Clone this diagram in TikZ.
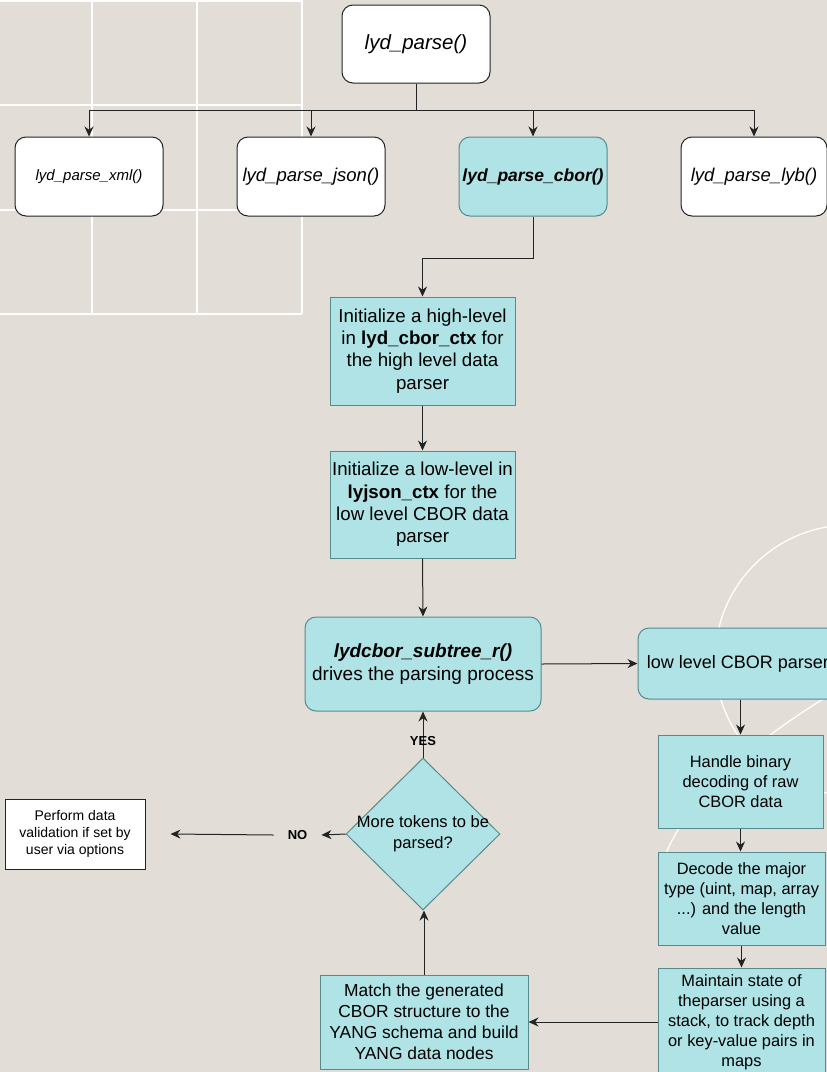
\documentclass[tikz,border=0pt]{standalone}
\usepackage{fontspec}
\setmainfont{Liberation Sans}
\usetikzlibrary{arrows.meta,shapes.geometric}
\definecolor{bg}{RGB}{226,222,215}
\definecolor{tealfill}{RGB}{176,227,230}
\definecolor{tealdraw}{RGB}{88,138,141}
\definecolor{linec}{RGB}{35,35,35}
\begin{document}
\begin{tikzpicture}[x=1pt,y=-1pt,
  wbox/.style={draw=linec, fill=white, rounded corners=11pt, line width=1pt, minimum width=148pt, minimum height=79pt, inner sep=0pt, align=center},
  tbox/.style={draw=tealdraw, fill=tealfill, line width=1pt, inner sep=0pt, align=center},
  tround/.style={tbox, rounded corners=11pt},
  conn/.style={draw=linec, line width=1pt, -{Stealth[length=10pt,width=9pt]}},
  gridline/.style={draw=white, line width=1.6pt},
  arcline/.style={draw=white, line width=1.3pt},
  lbl/.style={font=\fontsize{13}{15}\selectfont\bfseries, inner sep=1pt}
]
\fill[bg] (0,0) rectangle (827,1072);
\useasboundingbox (0,0) rectangle (827,1072);
\begin{scope}
\clip (0,0) rectangle (827,1072);
% background grid
\foreach \gx in {92,197,302} \draw[gridline] (\gx,0) -- (\gx,314);
\foreach \gy in {1,105,210,314} \draw[gridline] (0,\gy) -- (302,\gy);
% decorative arcs
\draw[arcline] (850,660) circle[radius=135];
\draw[arcline] (845,686) .. controls (760,735) and (680,800) .. (660,870);
\end{scope}

% nodes
\node[wbox, minimum height=78pt, font=\fontsize{20.5}{24}\selectfont\itshape] (top) at (416,44) {lyd\_parse()};
\node[wbox, font=\fontsize{15}{18}\selectfont\itshape] (xml) at (89,176.5) {lyd\_parse\_xml()};
\node[wbox, font=\fontsize{18.5}{22}\selectfont\itshape] (json) at (311,176.5) {lyd\_parse\_json()};
\node[tround, minimum width=148pt, minimum height=79pt, font=\fontsize{17.5}{21}\selectfont\bfseries\itshape] (cbor) at (533,176.5) {lyd\_parse\_cbor()};
\node[wbox, minimum width=146pt, font=\fontsize{18.5}{22}\selectfont\itshape] (lyb) at (754,176.5) {lyd\_parse\_lyb()};

\node[tbox, minimum width=185pt, minimum height=108pt, font=\fontsize{18.7}{22.3}\selectfont] (init1) at (422.5,351)
  {Initialize a high-level\\in \textbf{lyd\_cbor\_ctx} for\\the high level data\\parser};
\node[tbox, minimum width=185pt, minimum height=107pt, font=\fontsize{18.7}{22.3}\selectfont] (init2) at (422.5,504.5)
  {Initialize a low-level in\\\textbf{lyjson\_ctx} for the\\low level CBOR data\\parser};
\node[tround, minimum width=236pt, minimum height=94pt, font=\fontsize{19}{23}\selectfont] (sub) at (423,664)
  {\textbf{\textit{lydcbor\_subtree\_r()}}\\drives the parsing process};
\node[tround, minimum width=200pt, minimum height=71pt, font=\fontsize{18}{22}\selectfont] (low) at (738,663.5)
  {low level CBOR parser};
\node[tbox, minimum width=165pt, minimum height=93pt, font=\fontsize{16.4}{20}\selectfont] (hand) at (740.5,781.5)
  {Handle binary\\decoding of raw\\CBOR data};
\node[tbox, minimum width=167pt, minimum height=93pt, font=\fontsize{16.4}{20}\selectfont] (dec) at (741.5,898.5)
  {Decode the major\\type (uint, map, array\\...) and the length\\value};
\node[tbox, minimum width=167pt, minimum height=108pt, font=\fontsize{16.4}{20}\selectfont] (maint) at (741.5,1022)
  {Maintain state of\\theparser using a\\stack, to track depth\\or key-value pairs in\\maps};
\node[tbox, minimum width=208pt, minimum height=94pt, font=\fontsize{17.4}{21}\selectfont] (match) at (424,1022)
  {Match the generated\\CBOR structure to the\\YANG schema and build\\YANG data nodes};
\node[diamond, draw=tealdraw, fill=tealfill, line width=1pt, inner sep=0pt, minimum width=154pt, minimum height=152pt,
  label={[font=\fontsize{16.5}{21}\selectfont, align=center, inner sep=0pt]center:More tokens to be\\parsed?}] (dia) at (423,834) {};
\node[lbl, inner xsep=14pt] (no) at (297.5,835) {NO};
\node[draw=linec, fill=white, line width=1pt, minimum width=140pt, minimum height=70pt, inner sep=0pt, align=center,
  font=\fontsize{14}{17}\selectfont] (perf) at (75,834) {Perform data\\validation if set by\\user via options};

% connectors
\coordinate (bus) at (416,110);
\draw[draw=linec, line width=1pt] (top.south) -- (bus);
\draw[conn] (bus) -| (xml.north);
\draw[conn] (bus) -| (json.north);
\draw[conn] (bus) -| (cbor.north);
\draw[conn] (bus) -| (lyb.north);
\draw[conn] (cbor.south) -- ++(0,42) -| (init1.north);
\draw[conn] (init1.south) -- (init2.north);
\draw[conn] (init2.south) -- (sub.north);
\draw[conn] (sub.east) -- (low.west);
\draw[conn] (low.south -| hand.north) -- (hand.north);
\draw[conn] (hand.south) -- (hand.south |- dec.north);
\draw[conn] (dec.south) -- (dec.south |- maint.north);
\draw[conn] (maint.west) -- (match.east);
\draw[conn] (match.north) -- (match.north |- dia.south);
\draw[conn] (dia.north) -- node[lbl, pos=0.36] {YES} (dia.north |- sub.south);
\draw[conn] (dia.west) -- (no.east);
\draw[conn] (no.west) -- ([xshift=25pt]perf.east);
\end{tikzpicture}
\end{document}
